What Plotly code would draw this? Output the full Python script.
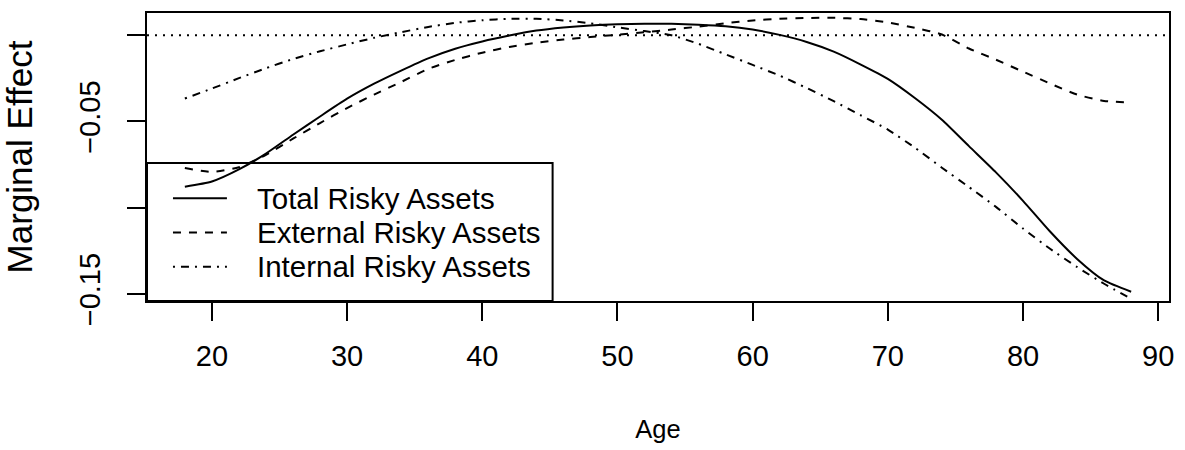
import plotly.graph_objects as go

age = [18, 20, 22, 24, 26, 28, 30, 32, 34, 36, 38, 40, 42, 44, 46, 48, 50, 52,
       54, 56, 58, 60, 62, 64, 66, 68, 70, 72, 74, 76, 78, 80, 82, 84, 86, 88]

total_risky = [-0.0878, -0.0848, -0.0778, -0.0686, -0.0577, -0.0471, -0.0368, -0.0281,
               -0.0205, -0.0134, -0.0078, -0.0036, -0.0002, 0.0027, 0.0045, 0.0057,
               0.0064, 0.0067, 0.0066, 0.0061, 0.0052, 0.0033, 0.0002, -0.0039,
               -0.0095, -0.0170, -0.0253, -0.0364, -0.0490, -0.0643, -0.0795, -0.0960,
               -0.1138, -0.1297, -0.1422, -0.1487]

external_risky = [-0.0770, -0.0792, -0.0765, -0.0694, -0.0600, -0.0509, -0.0422, -0.0344,
                  -0.0271, -0.0195, -0.0143, -0.0101, -0.0068, -0.0044, -0.0025, -0.0010,
                  0.0003, 0.0017, 0.0033, 0.0050, 0.0070, 0.0086, 0.0095, 0.0100,
                  0.0101, 0.0094, 0.0074, 0.0043, 0.0004, -0.0077, -0.0142, -0.0211,
                  -0.0280, -0.0344, -0.0381, -0.0390]

internal_risky = [-0.0367, -0.0309, -0.0249, -0.0191, -0.0138, -0.0093, -0.0053, -0.0015,
                  0.0018, 0.0048, 0.0072, 0.0087, 0.0095, 0.0096, 0.0086, 0.0069,
                  0.0046, 0.0024, 0.0000, -0.0050, -0.0111, -0.0172, -0.0234, -0.0306,
                  -0.0382, -0.0464, -0.0547, -0.0652, -0.0768, -0.0880, -0.0995, -0.1121,
                  -0.1238, -0.1344, -0.1441, -0.1528]

x_ticks = [20, 30, 40, 50, 60, 70, 80, 90]
y_ticks = [0, -0.05, -0.10, -0.15]
y_ticktext = ["", "\u22120.05", "", "\u22120.15"]

FONT = "Liberation Sans, Arial, Helvetica, sans-serif"

series = [
    ("Total Risky Assets", total_risky, "solid"),
    ("External Risky Assets", external_risky, "8px,8px"),
    ("Internal Risky Assets", internal_risky, "2px,6px,8px,6px"),
]

# figure / plot area geometry in pixels
W, H = 1185, 450
ML, MR, MT, MB = 147, 15, 11, 145
PW, PH = W - ML - MR, H - MT - MB

def px(x):
    return (x - ML) / PW

def py(y):
    return (H - MB - y) / PH

fig = go.Figure()
for name, vals, dash in series:
    fig.add_trace(go.Scatter(
        x=age, y=vals, mode="lines", name=name, showlegend=False,
        line=dict(color="black", width=2, dash=dash, shape="spline", smoothing=0.6),
    ))

# dotted reference line at zero
fig.add_hline(y=0, line=dict(color="black", width=2, dash="2px,6px"))

# R-style legend box in the lower left corner, no fill
fig.add_shape(type="rect", xref="paper", yref="paper",
              x0=px(147), x1=px(553), y0=py(305), y1=py(164),
              line=dict(color="black", width=2), fillcolor="rgba(0,0,0,0)")
row_y = [200, 235, 270]
for (name, vals, dash), ry in zip(series, row_y):
    fig.add_shape(type="line", xref="paper", yref="paper",
                  x0=px(173), x1=px(227), y0=py(ry), y1=py(ry),
                  line=dict(color="black", width=2, dash=dash))
    fig.add_annotation(text=name, xref="paper", yref="paper",
                       x=px(255), y=py(ry), xanchor="left", yanchor="middle",
                       showarrow=False, font=dict(size=29.5))

fig.update_layout(
    width=W, height=H,
    margin=dict(l=ML, r=MR, t=MT, b=MB),
    paper_bgcolor="white", plot_bgcolor="white",
    font=dict(family=FONT, size=29, color="black"),
    showlegend=False,
)

fig.update_xaxes(
    range=[15.2, 90.8], tickvals=x_ticks,
    showline=True, linecolor="black", linewidth=2, mirror=True,
    ticks="outside", ticklen=18, tickwidth=2, tickcolor="black",
    showgrid=False, zeroline=False, ticklabelstandoff=10,
    title=dict(text="Age", standoff=49, font=dict(size=25.5)),
)
fig.update_yaxes(
    range=[-0.1541, 0.0129], tickvals=y_ticks, ticktext=y_ticktext, tickangle=-90,
    showline=True, linecolor="black", linewidth=2, mirror=True,
    ticks="outside", ticklen=18, tickwidth=2, tickcolor="black",
    showgrid=False, zeroline=False, ticklabelstandoff=15,
    title=dict(text="Marginal Effect", standoff=32),
)

fig.write_html("out.html", config={"displayModeBar": False},
               post_script="document.body.style.margin='0';")
